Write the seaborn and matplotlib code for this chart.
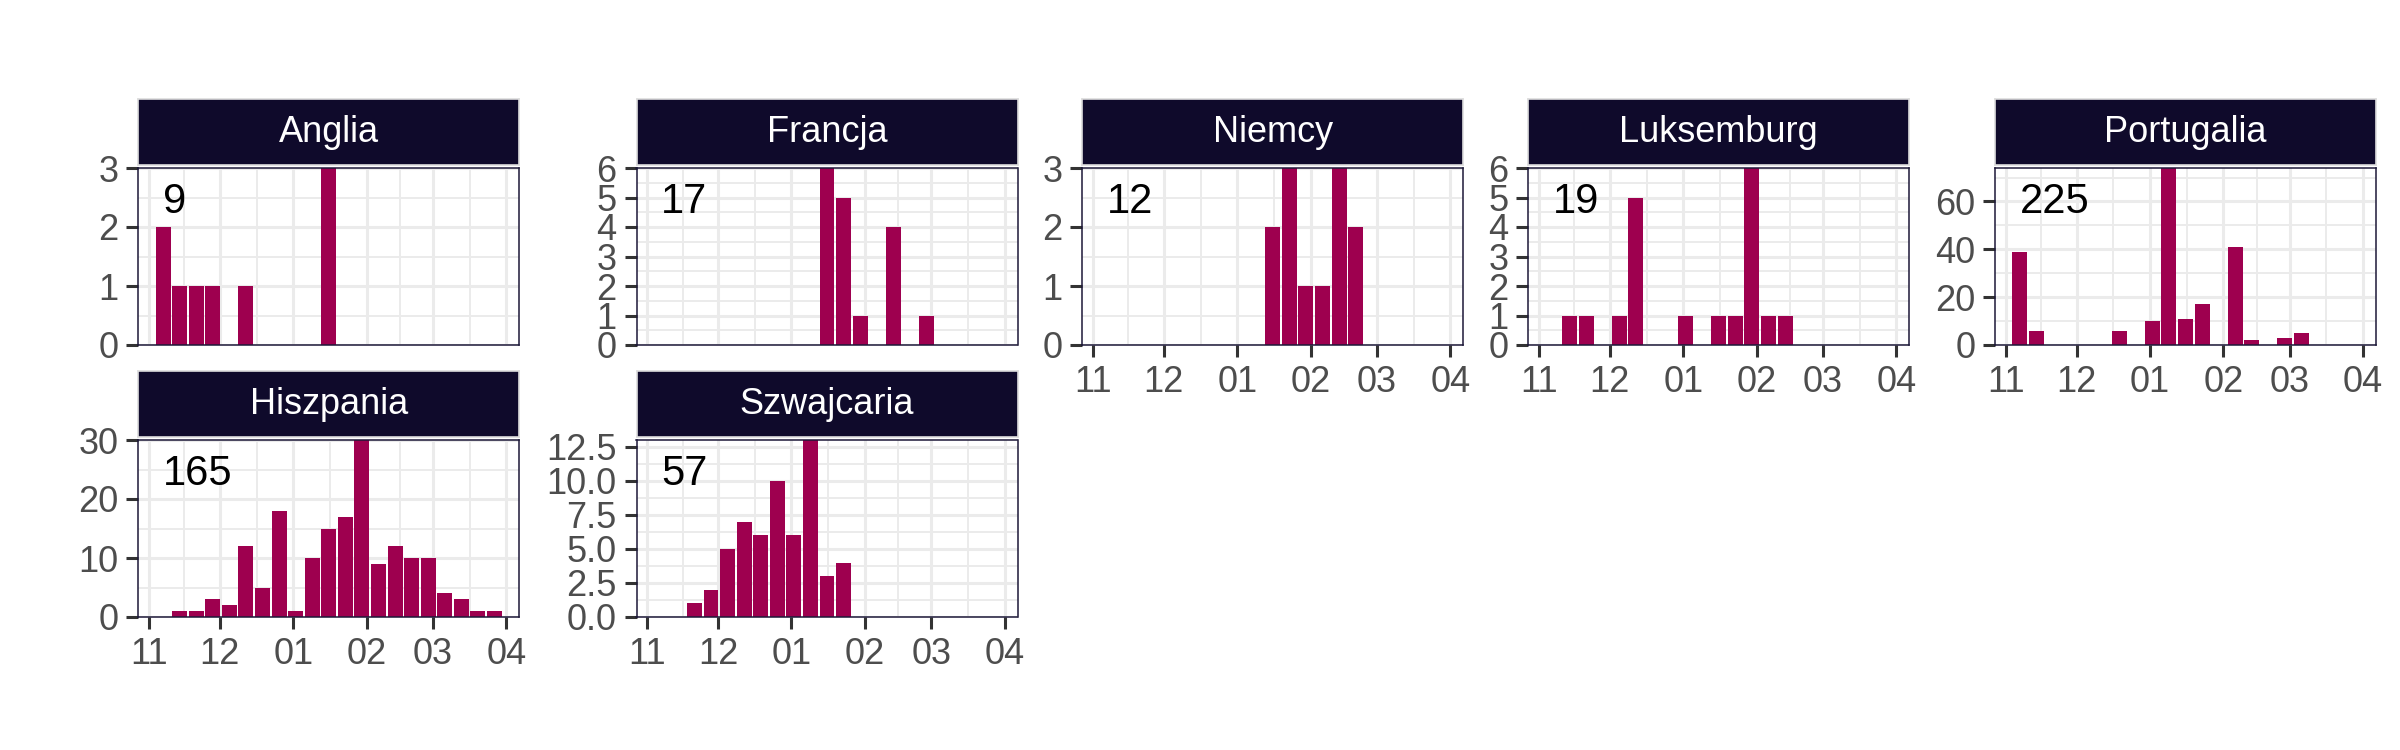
import numpy as np
import pandas as pd
import matplotlib.pyplot as plt
import matplotlib.dates as mdates
import matplotlib.ticker as mticker
import seaborn as sns

sns.set_theme(style="white")
plt.rcParams['font.family'] = ['Liberation Sans', 'DejaVu Sans']

# weekly bins (Mondays), 2022/23 season
weeks = ["2022-11-07", "2022-11-14", "2022-11-21", "2022-11-28",
         "2022-12-05", "2022-12-12", "2022-12-19", "2022-12-26",
         "2023-01-02", "2023-01-09", "2023-01-16", "2023-01-23", "2023-01-30",
         "2023-02-06", "2023-02-13", "2023-02-20", "2023-02-27",
         "2023-03-06", "2023-03-13", "2023-03-20", "2023-03-27"]

countries = ["Anglia", "Francja", "Niemcy", "Luksemburg", "Portugalia",
             "Hiszpania", "Szwajcaria"]

# counts per week, one list per country
anglia     = [2, 1, 1, 1, 0, 1, 0, 0, 0, 0, 3, 0, 0, 0, 0, 0, 0, 0, 0, 0, 0]
francja    = [0, 0, 0, 0, 0, 0, 0, 0, 0, 0, 6, 5, 1, 0, 4, 0, 1, 0, 0, 0, 0]
niemcy     = [0, 0, 0, 0, 0, 0, 0, 0, 0, 0, 2, 3, 1, 1, 3, 2, 0, 0, 0, 0, 0]
luksemburg = [0, 1, 1, 0, 1, 5, 0, 0, 1, 0, 1, 1, 6, 1, 1, 0, 0, 0, 0, 0, 0]
portugalia = [39, 6, 0, 0, 0, 0, 6, 0, 10, 74, 11, 17, 0, 41, 2, 0, 3, 5, 0, 0, 0]
hiszpania  = [0, 1, 1, 3, 2, 12, 5, 18, 1, 10, 15, 17, 30, 9, 12, 10, 10, 4, 3, 1, 1]
szwajcaria = [0, 0, 1, 2, 5, 7, 6, 10, 6, 13, 3, 4, 0, 0, 0, 0, 0, 0, 0, 0, 0]

totals = [9, 17, 12, 19, 225, 165, 57]
y_steps = [1, 1, 1, 1, 20, 10, 2.5]

bar_color = "#9E004F"
strip_color = "#0F0A2B"
grid_color = "#EBEBEB"

counts = [anglia, francja, niemcy, luksemburg, portugalia, hiszpania, szwajcaria]
df = pd.DataFrame({
    "country": np.repeat(countries, len(weeks)),
    "week": np.tile(pd.to_datetime(weeks).values, len(countries)),
    "n": np.concatenate(counts),
})

g = sns.FacetGrid(df, col="country", col_order=countries, col_wrap=5,
                  sharey=False, height=2.5, aspect=1.5)


def draw_bars(data, color=None, **kws):
    ax = plt.gca()
    ax.bar(mdates.date2num(data["week"]), data["n"], width=6.3,
           color=bar_color, linewidth=0, zorder=2)


g.map_dataframe(draw_bars)
g.set_titles("")
g.set_axis_labels("", "")
fig = g.figure
fig.set_size_inches(24, 7.5)

# layout in pixels (2400 x 750)
W, H = 2400, 750
col_left = [138.3, 636.5, 1082.3, 1528.3, 1995]
row_top = [168, 440]
pw, ph = 381, 177

week_num = mdates.date2num(pd.to_datetime(weeks))
lo, hi = week_num[0] - 3.15, week_num[-1] + 3.15
pad = 0.05 * (hi - lo)
month_starts = mdates.date2num(pd.date_range("2022-11-01", "2023-04-01", freq="MS"))
month_mid = (month_starts[:-1] + month_starts[1:]) / 2

for i, ax in enumerate(g.axes.flat):
    r, c = divmod(i, 5)
    left, top = col_left[c], row_top[r]
    ax.set_position([left / W, 1 - (top + ph) / H, pw / W, ph / H])

    vals = counts[i]
    ax.set_ylim(0, max(vals))
    ax.set_xlim(lo - pad, hi + pad)
    ax.xaxis.set_major_locator(mticker.FixedLocator(month_starts))
    ax.xaxis.set_major_formatter(mdates.DateFormatter("%m"))
    ax.xaxis.set_minor_locator(mticker.FixedLocator(month_mid))
    ax.yaxis.set_major_locator(mticker.MultipleLocator(y_steps[i]))
    ax.yaxis.set_minor_locator(mticker.MultipleLocator(y_steps[i] / 2))
    fmt = "%.1f" if y_steps[i] == 2.5 else "%d"
    ax.yaxis.set_major_formatter(mticker.FormatStrFormatter(fmt))

    ax.set_facecolor("white")
    ax.set_axisbelow(True)
    ax.grid(which="major", color=grid_color, linewidth=2.2, zorder=0)
    ax.grid(which="minor", color=grid_color, linewidth=1.4, zorder=0)
    for sp in ax.spines.values():
        sp.set_visible(True)
        sp.set_color("#1C1838")
        sp.set_linewidth(1.1)
        sp.set_zorder(3)

    ax.tick_params(which="major", length=8.3, width=2.2, color="#333333",
                   labelsize=26, labelcolor="#4D4D4D", pad=6)
    ax.tick_params(which="minor", length=0)
    ax.tick_params(axis="y", left=True, labelleft=True)
    show_x = not (r == 0 and c < 2)
    ax.tick_params(axis="x", bottom=show_x, labelbottom=show_x)
    for lab in ax.get_xticklabels():
        lab.set_visible(show_x)

    ax.text(week_num[0], 0.81, str(totals[i]), transform=ax.get_xaxis_transform(),
            ha="left", va="center", fontsize=30, color="black", zorder=4)

    # facet strip
    sax = fig.add_axes([left / W, 1 - (top - 3) / H, pw / W, 66 / H])
    sax.set_facecolor(strip_color)
    sax.set_xticks([])
    sax.set_yticks([])
    for sp in sax.spines.values():
        sp.set_visible(True)
        sp.set_color("#DDDDDD")
        sp.set_linewidth(1.2)
    sax.text(0.5, 0.5, countries[i], transform=sax.transAxes, ha="center",
             va="center", fontsize=26, color="white")

fig.savefig("out.png", dpi=100, facecolor="white")
